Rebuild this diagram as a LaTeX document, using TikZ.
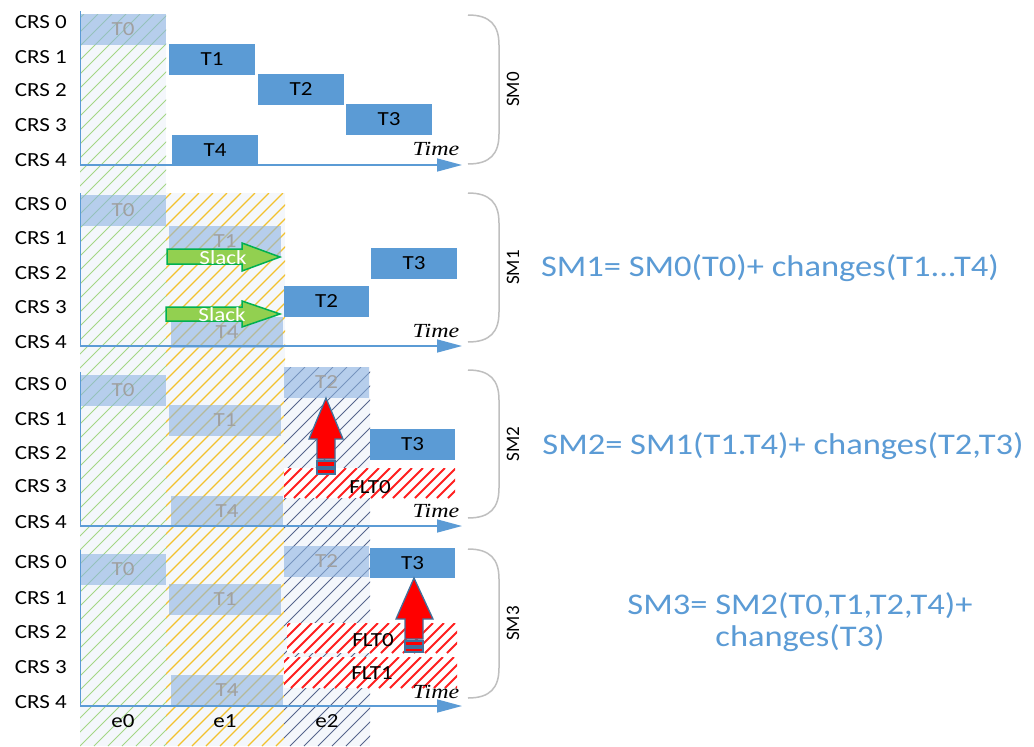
\documentclass[tikz,border=0pt]{standalone}
\usepackage{fontspec}
\setmainfont[FakeStretch=1.15]{Carlito}
\newfontfamily\smfont{Carlito}
\newfontfamily\timefont[FakeStretch=1.2]{Liberation Serif}
\usetikzlibrary{arrows.meta}
\definecolor{solidblue}{HTML}{5B9BD5}
\definecolor{lightblue}{HTML}{8DB4E2}
\definecolor{colbg}{HTML}{F4F7FB}
\definecolor{hgreen}{HTML}{A3D685}
\definecolor{hyellow}{HTML}{F2C12E}
\definecolor{hnavy}{HTML}{56658C}
\definecolor{hred}{HTML}{FF2020}
\definecolor{bracegray}{HTML}{BFBFBF}
\definecolor{slackfill}{HTML}{92D050}
\definecolor{slackline}{HTML}{00B050}
\definecolor{arrline}{HTML}{41719C}
\definecolor{graytext}{HTML}{A0A0A0}
\tikzset{
  lbl/.style={font=\fontsize{20}{20}\selectfont, inner sep=0pt},
  crs/.style={lbl, anchor=east},
  solidbox/.style={lbl, fill=solidblue, text=black},
  lightbox/.style={lbl, fill=lightblue, fill opacity=0.6, text opacity=1, text=graytext},
  fltlbl/.style={lbl, text=black},
  elbl/.style={lbl, text=black},
  slacklbl/.style={lbl, text=white},
  timelbl/.style={font=\timefont\itshape\fontsize{20}{20}\selectfont, inner sep=0pt},
  smlbl/.style={font=\smfont\fontsize{19}{19}\selectfont, inner sep=0pt, rotate=90},
  eqlbl/.style={font=\fontsize{30}{32}\selectfont, text=solidblue, inner sep=0pt, align=center},
  axish/.style={solidblue, line width=1.5pt, -{Triangle[length=25pt,width=13pt]}},
  axisv/.style={solidblue, line width=0.8pt},
  bracestyle/.style={bracegray, line width=1.5pt},
  slackarrow/.style={fill=slackfill, draw=slackline, line width=1.5pt, line join=miter},
  redarrow/.style={fill=red, draw=arrline, line width=1.3pt, line join=miter},
  greenhatch/.style={hgreen, line width=1pt},
  yellowhatch/.style={hyellow, line width=1.1pt},
  navyhatch/.style={hnavy, line width=0.8pt},
  redhatch/.style={hred, line width=1.8pt},
}
% hatch: x0,y0,x1,y1,spacing,style
\newcommand\hatchrect[6]{%
  \begin{scope}
    \clip (#1,#2) rectangle (#3,#4);
    \pgfmathtruncatemacro\hatchA{floor((#1+#2)/#5)}%
    \pgfmathtruncatemacro\hatchB{ceil((#3+#4)/#5)}%
    \foreach \k in {\hatchA,...,\hatchB}{%
      \draw[#6] ({\k*#5-#4},#4) -- ({\k*#5-#2},#2);}%
  \end{scope}}
% box: style,name,x0,y0,x1,y1,text
\newcommand\taskbox[7]{%
  \node[#1, minimum width={(#5-#3)*1pt}, minimum height={(#6-#4)*1pt}] (#2) at ({(#3+#5)/2},{(#4+#6)/2}) {#7};}
% CRS labels: prefix, y0..y4
\newcommand\crslabels[6]{%
  \node[crs] (#1c0) at (67,#2) {CRS 0};
  \node[crs] (#1c1) at (67,#3) {CRS 1};
  \node[crs] (#1c2) at (67,#4) {CRS 2};
  \node[crs] (#1c3) at (67,#5) {CRS 3};
  \node[crs] (#1c4) at (67,#6) {CRS 4};}
% axes: prefix, top of vertical, y of axis, y of Time
\newcommand\panelaxis[4]{%
  \coordinate (#1top) at (80,#2);
  \coordinate (#1org) at (80,#3);
  \coordinate (#1end) at (462,#3);
  \draw[axisv] (#1top) -- (#1org);
  \draw[axish] (#1org) -- (#1end);
  \node[timelbl] (#1time) at (436,#4) {Time};}
% brace: prefix, top, bottom, label
\newcommand\smbrace[4]{%
  \coordinate (#1bt) at (468,#2);
  \coordinate (#1bb) at (468,#3);
  \draw[bracestyle] (#1bt) .. controls (490,#2) and (499,{#2+10}) .. (499,{#2+30})
     -- (499,{#3-30}) .. controls (499,{#3-10}) and (490,#3) .. (#1bb);
  \node[smlbl] (#1sm) at (513,{(#2+#3)/2}) {#4};}
\begin{document}
\begin{tikzpicture}[x=1pt,y=-1pt]
\useasboundingbox (0,0) rectangle (1034,747);
\fill[white] (0,0) rectangle (1034,747);

% columns
\fill[colbg] (80,14) rectangle (166,746);
\hatchrect{80}{14}{166}{746}{14}{greenhatch}
\fill[colbg] (166,193) rectangle (285,746);
\hatchrect{166}{193}{285}{746}{14}{yellowhatch}
\fill[colbg] (284,367) rectangle (370,746);
\hatchrect{284}{367}{370}{746}{14}{navyhatch}

% fault regions
\fill[white] (284,468) rectangle (455,498);
\hatchrect{284}{468}{455}{498}{11}{redhatch}
\fill[white] (287,623) rectangle (457,653);
\hatchrect{287}{623}{457}{653}{11}{redhatch}
\fill[white] (284,657) rectangle (457,688);
\hatchrect{284}{657}{457}{688}{11}{redhatch}

% ---------- panel SM0
\taskbox{lightbox}{pa0}{80}{14}{166}{45}{T0}
\taskbox{solidbox}{pa1}{169}{44}{255}{75}{T1}
\taskbox{solidbox}{pa2}{258}{74}{344}{105}{T2}
\taskbox{solidbox}{pa3}{346}{104}{432}{135}{T3}
\taskbox{solidbox}{pa4}{172}{135}{258}{165}{T4}
\crslabels{pa}{22}{57}{90}{125}{160}
\panelaxis{pa}{11}{165}{149}
\smbrace{pa}{15}{164}{SM0}

% ---------- panel SM1
\taskbox{lightbox}{pb0}{80}{195}{166}{226}{T0}
\taskbox{lightbox}{pb1}{169}{226}{281}{257}{T1}
\taskbox{lightbox}{pb4}{171}{317}{283}{348}{T4}
\taskbox{solidbox}{pb2}{284}{286}{369}{317}{T2}
\taskbox{solidbox}{pb3}{371}{248}{457}{279}{T3}
\crslabels{pb}{204}{238}{273}{307}{342}
\panelaxis{pb}{193}{346}{331}
\smbrace{pb}{193}{342}{SM1}
\filldraw[slackarrow] (167,249) -- (242,249) -- (242,243) -- (280,257) -- (242,271) -- (242,264) -- (167,264) -- cycle;
\node[slacklbl] (sl1) at (223,258) {Slack};
\filldraw[slackarrow] (166,307) -- (242,307) -- (242,301) -- (280,314) -- (242,327) -- (242,321) -- (166,321) -- cycle;
\node[slacklbl] (sl2) at (222,315) {Slack};

% ---------- panel SM2
\taskbox{lightbox}{pc0}{80}{375}{166}{406}{T0}
\taskbox{lightbox}{pc1}{169}{405}{281}{436}{T1}
\taskbox{lightbox}{pc4}{171}{496}{283}{527}{T4}
\taskbox{lightbox}{pc2}{284}{367}{369}{398}{T2}
\taskbox{solidbox}{pc3}{370}{429}{455}{460}{T3}
\node[fltlbl] (pcf0) at (370,487) {FLT0};
\crslabels{pc}{384}{419}{453}{486}{522}
\panelaxis{pc}{372}{526}{511}
\smbrace{pc}{370}{518}{SM2}
\filldraw[redarrow] (326,398) -- (343,439) -- (335,439) -- (335,459) -- (317,459) -- (317,439) -- (309,439) -- cycle;
\filldraw[redarrow] (317,461) rectangle (335,467);
\filldraw[redarrow] (317,469) rectangle (335,474);

% ---------- panel SM3
\taskbox{lightbox}{pd0}{80}{554}{166}{585}{T0}
\taskbox{lightbox}{pd1}{169}{584}{281}{615}{T1}
\taskbox{lightbox}{pd4}{171}{675}{283}{706}{T4}
\taskbox{lightbox}{pd2}{284}{546}{369}{577}{T2}
\taskbox{solidbox}{pd3}{370}{548}{455}{578}{T3}
\node[fltlbl] (pdf0) at (373,640) {FLT0};
\node[fltlbl] (pdf1) at (372,673) {FLT1};
\crslabels{pd}{562}{598}{632}{667}{702}
\panelaxis{pd}{550}{706}{692}
\smbrace{pd}{549}{698}{SM3}
\filldraw[redarrow] (414,578) -- (433,619) -- (423,619) -- (423,639) -- (405,639) -- (405,619) -- (396,619) -- cycle;
\filldraw[redarrow] (405,641) rectangle (423,646);
\filldraw[redarrow] (405,648) rectangle (423,652);

% column labels
\node[elbl] (le0) at (123,721) {e0};
\node[elbl] (le1) at (225,721) {e1};
\node[elbl] (le2) at (327,721) {e2};

% equations
\node[eqlbl] (eq1) at (770,268) {SM1= SM0(T0)+ changes(T1...T4)};
\node[eqlbl] (eq2) at (783,446) {SM2= SM1(T1.T4)+ changes(T2,T3)};
\node[eqlbl] (eq3) at (800,622) {SM3= SM2(T0,T1,T2,T4)+\\changes(T3)};
\end{tikzpicture}
\end{document}
